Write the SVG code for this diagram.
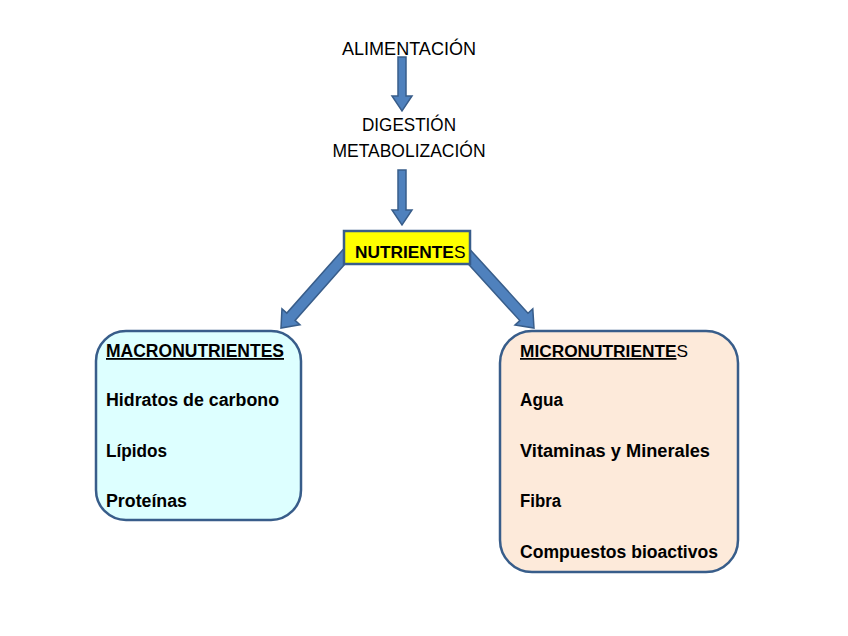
<svg xmlns="http://www.w3.org/2000/svg" width="848" height="636" viewBox="0 0 848 636">
<style>
.t{font-family:"Liberation Sans","Open Sans",Arial,sans-serif;font-size:18px;fill:#000}
.b{font-weight:bold}
.h{font-size:17.3px}
.arr{fill:#4F81BD;stroke:#385D8A;stroke-width:1.5}
.box{stroke:#385D8A;stroke-width:2.5}
</style>
<rect width="848" height="636" fill="#fff"/>
<g id="connectors">
<path class="arr" transform="translate(402,111) rotate(90)" d="M -54,-4 L -15,-4 L -15,-10 L 0,0 L -15,10 L -15,4 L -54,4 Z"/>
<path class="arr" transform="translate(402,225) rotate(90)" d="M -55,-4 L -15,-4 L -15,-10 L 0,0 L -15,10 L -15,4 L -55,4 Z"/>
<path class="arr" transform="translate(281,328) rotate(131.5)" d="M -104,-5.5 L -15,-5.5 L -15,-12 L 0,0 L -15,12 L -15,5.5 L -104,5.5 Z"/>
<path class="arr" transform="translate(534,328) rotate(47.7)" d="M -105,-5.5 L -15,-5.5 L -15,-12 L 0,0 L -15,12 L -15,5.5 L -105,5.5 Z"/>
</g>
<g id="alimentacion">
<text class="t" x="409" y="55" text-anchor="middle" textLength="134" lengthAdjust="spacingAndGlyphs">ALIMENTACIÓN</text>
</g>
<g id="digestion">
<text class="t" x="409" y="131" text-anchor="middle" textLength="94" lengthAdjust="spacingAndGlyphs">DIGESTIÓN</text>
<text class="t" x="409" y="157" text-anchor="middle" textLength="153" lengthAdjust="spacingAndGlyphs">METABOLIZACIÓN</text>
</g>
<g id="nutrientes">
<rect class="box" x="344" y="231" width="126" height="33" fill="#FFFF00" stroke-width="2"/>
<text class="t h" x="355" y="258"><tspan class="b">NUTRIENTE</tspan>S</text>
</g>
<g id="macronutrientes">
<rect class="box" x="96" y="331" width="205" height="189" rx="30" fill="#DDFFFF"/>
<text class="t b" x="106" y="357" text-decoration="underline" textLength="178" lengthAdjust="spacingAndGlyphs">MACRONUTRIENTES</text>
<text class="t b" x="106" y="406" textLength="173" lengthAdjust="spacingAndGlyphs">Hidratos de carbono</text>
<text class="t b" x="106" y="457" textLength="61" lengthAdjust="spacingAndGlyphs">Lípidos</text>
<text class="t b" x="106" y="507" textLength="81" lengthAdjust="spacingAndGlyphs">Proteínas</text>
</g>
<g id="micronutrientes">
<rect class="box" x="500" y="331" width="238" height="241" rx="32" fill="#FDEADA"/>
<text class="t h" x="520" y="357"><tspan class="b" text-decoration="underline">MICRONUTRIENTE</tspan>S</text>
<text class="t b" x="520" y="406" textLength="43" lengthAdjust="spacingAndGlyphs">Agua</text>
<text class="t b" x="520" y="457" textLength="190" lengthAdjust="spacingAndGlyphs">Vitaminas y Minerales</text>
<text class="t b" x="520" y="507" textLength="41" lengthAdjust="spacingAndGlyphs">Fibra</text>
<text class="t b" x="520" y="558" textLength="198" lengthAdjust="spacingAndGlyphs">Compuestos bioactivos</text>
</g>
</svg>
